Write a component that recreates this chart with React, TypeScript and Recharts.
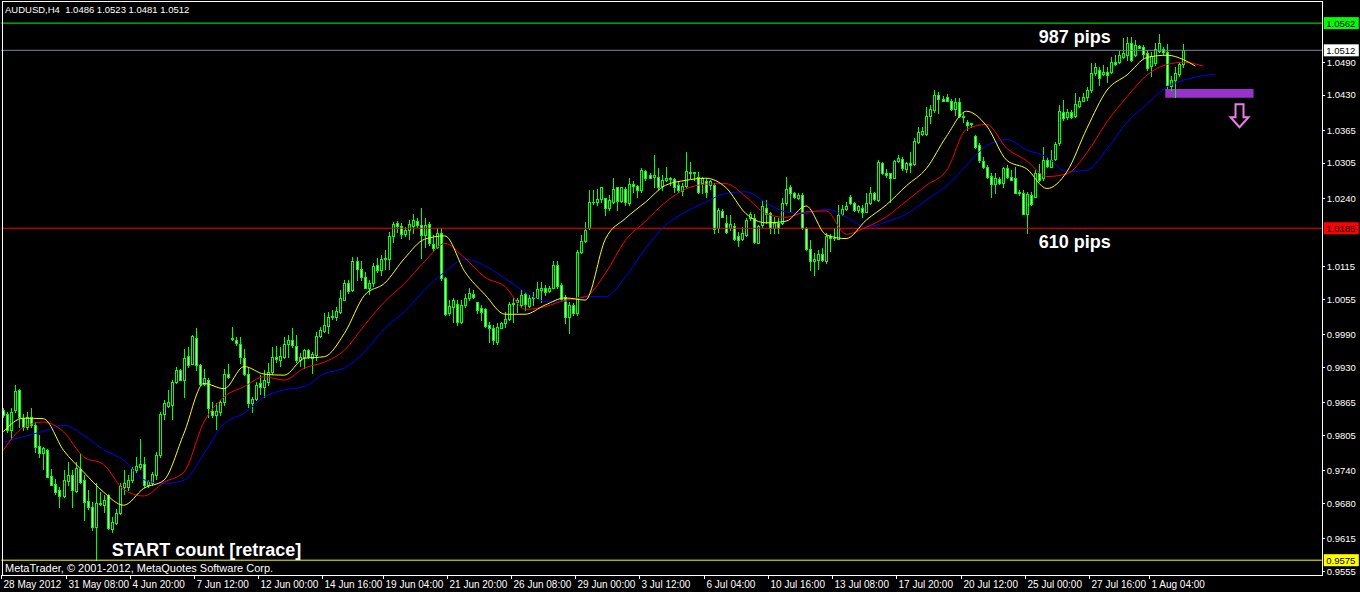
import { ComposedChart, Bar, Line, XAxis, YAxis, ReferenceLine, ReferenceArea, ReferenceDot } from 'recharts';

// AUDUSD H4 candles, prices in pips (1.0512 -> 10512)
const opens = [
  9851, 9843, 9814, 9851, 9887, 9837, 9820, 9838, 9823, 9784,
  9772, 9778, 9729, 9715, 9704, 9693, 9720, 9731, 9702, 9743,
  9722, 9683, 9672, 9636, 9678, 9676, 9694, 9633, 9644, 9661,
  9710, 9710, 9722, 9740, 9746, 9751, 9714, 9716, 9731, 9768,
  9844, 9859, 9860, 9903, 9925, 9907, 9950, 9935, 9984, 9933,
  9898, 9906, 9849, 9841, 9848, 9866, 9918, 9981, 9980, 9973,
  9946, 9918, 9864, 9872, 9900, 9893, 9903, 9921, 9948, 9943,
  9949, 9972, 9980, 9969, 9943, 9949, 9961, 9946, 9952, 9987,
  9997, 10005, 10022, 10022, 10032, 10054, 10084, 10072, 10124, 10111,
  10096, 10076, 10085, 10117, 10108, 10128, 10128, 10170, 10194, 10189,
  10175, 10181, 10190, 10199, 10191, 10173, 10192, 10156, 10151, 10177,
  10093, 10029, 10041, 10046, 10013, 10044, 10056, 10064, 10050, 10038,
  10036, 10007, 10002, 9976, 10002, 10010, 10018, 10045, 10050, 10044,
  10065, 10043, 10056, 10057, 10072, 10075, 10070, 10076, 10117, 10081,
  10059, 10022, 10044, 10029, 10142, 10162, 10185, 10233, 10234, 10239,
  10240, 10222, 10234, 10260, 10235, 10257, 10231, 10266, 10263, 10255,
  10290, 10283, 10280, 10280, 10263, 10274, 10277, 10275, 10264, 10253,
  10263, 10288, 10286, 10280, 10269, 10272, 10264, 10264, 10185, 10216,
  10194, 10185, 10189, 10171, 10165, 10173, 10203, 10203, 10158, 10191,
  10223, 10213, 10185, 10194, 10194, 10231, 10261, 10249, 10241, 10246,
  10185, 10146, 10124, 10127, 10138, 10124, 10170, 10167, 10166, 10212,
  10220, 10243, 10231, 10218, 10223, 10215, 10232, 10249, 10237, 10305,
  10287, 10286, 10278, 10309, 10313, 10293, 10305, 10304, 10344, 10359,
  10358, 10391, 10402, 10430, 10422, 10427, 10419, 10404, 10417, 10391,
  10380, 10376, 10354, 10338, 10309, 10297, 10281, 10267, 10275, 10269,
  10295, 10280, 10278, 10252, 10249, 10212, 10246, 10243, 10287, 10277,
  10310, 10298, 10313, 10341, 10399, 10389, 10399, 10392, 10409, 10419,
  10427, 10439, 10471, 10476, 10468, 10473, 10472, 10491, 10491, 10500,
  10503, 10526, 10503, 10520, 10518, 10507, 10483, 10488, 10510, 10514,
  10508, 10446, 10458, 10469, 10486,
];

const highs = [
  9854, 9848, 9854, 9897, 9890, 9844, 9848, 9854, 9829, 9805,
  9783, 9780, 9743, 9725, 9710, 9740, 9756, 9740, 9756, 9771,
  9731, 9704, 9682, 9716, 9700, 9694, 9697, 9655, 9670, 9716,
  9740, 9731, 9746, 9765, 9798, 9765, 9722, 9737, 9774, 9848,
  9869, 9887, 9906, 9930, 9927, 9964, 9967, 9988, 10001, 9936,
  9927, 9909, 9866, 9863, 9869, 9927, 9936, 10004, 9986, 9986,
  9964, 9928, 9875, 9903, 9915, 9924, 9937, 9967, 9969, 9967,
  9986, 9989, 10001, 9989, 9955, 9964, 9964, 9958, 9995, 10004,
  10029, 10032, 10035, 10041, 10072, 10090, 10090, 10133, 10133, 10124,
  10105, 10090, 10121, 10130, 10136, 10145, 10179, 10197, 10199, 10194,
  10188, 10201, 10212, 10203, 10222, 10203, 10197, 10173, 10185, 10185,
  10096, 10053, 10056, 10053, 10053, 10065, 10075, 10072, 10050, 10044,
  10039, 10013, 10007, 10010, 10013, 10032, 10050, 10056, 10056, 10071,
  10068, 10062, 10068, 10087, 10087, 10081, 10078, 10124, 10125, 10084,
  10062, 10050, 10047, 10145, 10173, 10197, 10255, 10255, 10258, 10261,
  10240, 10246, 10277, 10261, 10261, 10261, 10277, 10271, 10264, 10295,
  10292, 10286, 10320, 10295, 10283, 10298, 10280, 10277, 10271, 10268,
  10326, 10307, 10289, 10288, 10280, 10277, 10274, 10268, 10222, 10220,
  10209, 10209, 10194, 10179, 10188, 10203, 10215, 10212, 10191, 10237,
  10237, 10215, 10206, 10203, 10240, 10280, 10264, 10252, 10249, 10249,
  10188, 10163, 10139, 10145, 10148, 10176, 10174, 10185, 10228, 10228,
  10234, 10246, 10234, 10228, 10228, 10249, 10260, 10252, 10310, 10307,
  10293, 10287, 10310, 10320, 10316, 10307, 10326, 10350, 10372, 10372,
  10407, 10411, 10439, 10436, 10428, 10432, 10422, 10424, 10424, 10396,
  10384, 10379, 10356, 10341, 10316, 10301, 10286, 10286, 10280, 10298,
  10301, 10292, 10298, 10255, 10255, 10252, 10252, 10292, 10304, 10335,
  10316, 10329, 10344, 10411, 10421, 10405, 10402, 10433, 10427, 10433,
  10445, 10488, 10488, 10482, 10485, 10481, 10500, 10503, 10510, 10534,
  10537, 10536, 10531, 10522, 10522, 10513, 10508, 10525, 10542, 10519,
  10524, 10464, 10482, 10491, 10523,
];

const lows = [
  9838, 9811, 9798, 9848, 9820, 9814, 9817, 9820, 9774, 9765,
  9743, 9728, 9713, 9697, 9673, 9691, 9713, 9673, 9700, 9716,
  9648, 9670, 9630, 9575, 9676, 9664, 9633, 9627, 9642, 9659,
  9697, 9704, 9719, 9737, 9743, 9710, 9710, 9713, 9725, 9765,
  9835, 9857, 9835, 9900, 9906, 9875, 9930, 9935, 9924, 9897,
  9897, 9838, 9838, 9817, 9841, 9860, 9909, 9979, 9970, 9937,
  9915, 9857, 9848, 9869, 9881, 9875, 9897, 9918, 9940, 9931,
  9946, 9949, 9967, 9940, 9931, 9928, 9946, 9919, 9943, 9985,
  9995, 9992, 10019, 10017, 10029, 10053, 10066, 10070, 10090, 10090,
  10075, 10065, 10078, 10105, 10099, 10111, 10111, 10160, 10179, 10168,
  10171, 10166, 10176, 10188, 10130, 10151, 10154, 10145, 10148, 10090,
  10026, 10026, 10013, 10007, 10010, 10041, 10053, 10056, 10029, 10016,
  10004, 9976, 9973, 9973, 10001, 10004, 10016, 10013, 10032, 10041,
  10035, 10041, 10044, 10056, 10050, 10062, 10068, 10075, 10076, 10053,
  10010, 9992, 10025, 10025, 10139, 10160, 10184, 10229, 10228, 10234,
  10209, 10219, 10231, 10219, 10234, 10228, 10228, 10252, 10243, 10252,
  10274, 10277, 10261, 10258, 10255, 10271, 10264, 10252, 10252, 10246,
  10261, 10277, 10274, 10249, 10249, 10243, 10258, 10177, 10179, 10205,
  10177, 10182, 10163, 10153, 10163, 10171, 10200, 10158, 10157, 10188,
  10194, 10177, 10177, 10176, 10193, 10228, 10215, 10240, 10238, 10183,
  10145, 10108, 10099, 10111, 10124, 10122, 10144, 10163, 10165, 10209,
  10218, 10229, 10217, 10215, 10206, 10214, 10229, 10237, 10236, 10285,
  10280, 10234, 10277, 10307, 10292, 10289, 10289, 10301, 10341, 10356,
  10356, 10378, 10399, 10396, 10418, 10418, 10402, 10393, 10390, 10381,
  10366, 10372, 10332, 10307, 10295, 10277, 10243, 10249, 10267, 10261,
  10277, 10274, 10249, 10246, 10212, 10176, 10228, 10242, 10271, 10274,
  10298, 10297, 10310, 10338, 10384, 10385, 10387, 10390, 10408, 10418,
  10421, 10436, 10467, 10448, 10467, 10454, 10471, 10485, 10488, 10497,
  10494, 10493, 10502, 10516, 10497, 10476, 10464, 10485, 10508, 10503,
  10442, 10439, 10427, 10464, 10481,
];

const closes = [
  9841, 9814, 9848, 9886, 9838, 9820, 9838, 9823, 9783, 9772,
  9781, 9728, 9714, 9700, 9693, 9723, 9732, 9704, 9745, 9719,
  9682, 9672, 9636, 9680, 9681, 9686, 9635, 9645, 9661, 9711,
  9716, 9723, 9743, 9748, 9751, 9713, 9720, 9734, 9768, 9844,
  9863, 9865, 9903, 9925, 9907, 9947, 9933, 9987, 9933, 9898,
  9910, 9854, 9841, 9849, 9866, 9918, 9911, 9984, 9974, 9949,
  9918, 9864, 9872, 9897, 9893, 9906, 9921, 9948, 9944, 9950,
  9972, 9980, 9970, 9943, 9949, 9961, 9949, 9954, 9987, 9998,
  10007, 10022, 10024, 10033, 10056, 10084, 10070, 10124, 10110, 10096,
  10076, 10084, 10115, 10108, 10128, 10130, 10170, 10193, 10189, 10175,
  10181, 10193, 10201, 10191, 10173, 10191, 10157, 10148, 10176, 10093,
  10027, 10042, 10053, 10013, 10044, 10056, 10066, 10059, 10035, 10032,
  10006, 10001, 9980, 10004, 10010, 10019, 10045, 10048, 10053, 10063,
  10045, 10057, 10059, 10073, 10076, 10068, 10076, 10117, 10078, 10055,
  10022, 10044, 10030, 10142, 10162, 10182, 10233, 10234, 10239, 10260,
  10222, 10237, 10257, 10235, 10260, 10234, 10266, 10262, 10255, 10292,
  10277, 10278, 10283, 10261, 10274, 10277, 10275, 10261, 10255, 10263,
  10290, 10286, 10289, 10252, 10277, 10252, 10271, 10184, 10218, 10206,
  10179, 10193, 10166, 10163, 10176, 10200, 10212, 10160, 10189, 10225,
  10212, 10185, 10194, 10185, 10231, 10258, 10249, 10242, 10246, 10185,
  10146, 10124, 10128, 10138, 10127, 10170, 10167, 10168, 10209, 10220,
  10225, 10231, 10218, 10225, 10215, 10232, 10249, 10238, 10307, 10287,
  10283, 10277, 10309, 10315, 10295, 10305, 10301, 10345, 10362, 10364,
  10391, 10405, 10430, 10422, 10419, 10419, 10404, 10417, 10391, 10389,
  10375, 10378, 10335, 10310, 10297, 10280, 10267, 10277, 10269, 10295,
  10280, 10274, 10250, 10249, 10212, 10248, 10230, 10287, 10274, 10310,
  10299, 10310, 10340, 10400, 10387, 10399, 10390, 10414, 10419, 10427,
  10440, 10470, 10482, 10462, 10473, 10467, 10491, 10487, 10503, 10507,
  10525, 10495, 10522, 10517, 10506, 10479, 10502, 10514, 10525, 10508,
  10448, 10458, 10471, 10487, 10512,
];

// Alligator lines at these bar positions (pips)
const maIndex = [
  0, 5, 10, 15, 20, 25, 30, 35, 40, 45, 50, 55, 60, 65, 70, 75, 80, 85, 90, 95,
  100, 105, 110, 115, 120, 125, 130, 135, 140, 145, 150, 155, 160, 165, 170, 175, 180, 185, 190, 195,
  200, 205, 210, 215, 220, 225, 230, 235, 240, 245, 250, 255, 260, 265, 270, 275, 280, 285, 290,
  294, 297, 299, 302,
];
const lips = [
  9811, 9836, 9835, 9777, 9737, 9700, 9676, 9707, 9722, 9808, 9900, 9890, 9931, 9917, 9915, 9946, 9949, 9992, 10062, 10084,
  10130, 10165, 10171, 10105, 10063, 10027, 10027, 10044, 10057, 10053, 10165, 10203, 10233, 10264, 10273, 10277, 10260, 10212, 10195, 10198,
  10226, 10173, 10166, 10200, 10228, 10263, 10295, 10354, 10400, 10373, 10310, 10294, 10258, 10289, 10369, 10439, 10467, 10499, 10503,
  10495, 10483, null, null,
];
const teeth = [
  9777, 9819, 9829, 9811, 9765, 9751, 9705, 9693, 9718, 9737, 9829, 9875, 9894, 9912, 9906, 9928, 9939, 9961, 10007, 10050,
  10084, 10124, 10157, 10130, 10095, 10078, 10036, 10041, 10053, 10059, 10102, 10163, 10198, 10233, 10257, 10266, 10267, 10243, 10212, 10205,
  10215, 10217, 10174, 10187, 10206, 10235, 10264, 10291, 10367, 10376, 10332, 10309, 10280, 10285, 10324, 10381, 10427, 10467, 10486,
  10490, null, 10483, null,
];
const jaw = [
  9792, 9802, 9812, 9823, 9805, 9778, 9759, 9723, 9716, 9722, 9771, 9826, 9845, 9875, 9888, 9894, 9918, 9928, 9958, 10001,
  10032, 10072, 10105, 10128, 10116, 10093, 10068, 10051, 10051, 10060, 10059, 10096, 10148, 10191, 10215, 10233, 10249, 10252, 10232, 10215,
  10212, 10220, 10206, 10187, 10197, 10211, 10237, 10263, 10301, 10337, 10348, 10329, 10316, 10289, 10292, 10331, 10380, 10414, 10445,
  10457, null, null, 10468,
];

const dateLabels = [
  '28 May 2012', '31 May 08:00', '4 Jun 20:00', '7 Jun 12:00', '12 Jun 00:00', '14 Jun 16:00', '19 Jun 04:00',
  '21 Jun 20:00', '26 Jun 08:00', '29 Jun 00:00', '3 Jul 12:00', '6 Jul 04:00', '10 Jul 16:00', '13 Jul 08:00',
  '17 Jul 20:00', '20 Jul 12:00', '25 Jul 00:00', '27 Jul 16:00', '1 Aug 04:00',
];
const dateIdx = [0, 16, 32, 48, 64, 80, 95, 111, 127, 143, 159, 175, 191, 207, 223, 239, 255, 271, 286];

const priceTicks = [1.049, 1.043, 1.0365, 1.0305, 1.024, 1.0115, 1.0055, 0.999, 0.993, 0.9865, 0.9805, 0.974, 0.968, 0.9615, 0.9555];

const levels = [
  { price: 1.0562, color: '#00ff00', text: '1.0562', tag: '#00ff00' },
  { price: 1.0512, color: '#778899', text: '1.0512', tag: '#ffffff' },
  { price: 1.0185, color: '#ff0000', text: '1.0185', tag: '#ff0000' },
  { price: 0.9575, color: '#ffff00', text: '0.9575', tag: '#ffff00' },
];

const notes = [
  { text: '987 pips', at: 258, price: 1.05255 },
  { text: '610 pips', at: 258, price: 1.01487 },
  { text: 'START count [retrace]', at: 27, price: 0.95826 },
];

const SLOTS = 329;
const FONT = '"Liberation Sans", Arial, sans-serif';

const rows = Array.from({ length: SLOTS }, (_, i) => {
  const has = i < closes.length;
  const k = maIndex.indexOf(i);
  const pick = (arr: (number | null)[]) => (k >= 0 && arr[k] != null ? (arr[k] as number) / 10000 : null);
  return {
    i,
    range: has ? [lows[i] / 10000, highs[i] / 10000] : null,
    o: has ? opens[i] / 10000 : null,
    h: has ? highs[i] / 10000 : null,
    l: has ? lows[i] / 10000 : null,
    c: has ? closes[i] / 10000 : null,
    lips: pick(lips),
    teeth: pick(teeth),
    jaw: pick(jaw),
  };
});

const Candle = (props: any) => {
  const { x, y, width, height, payload } = props;
  if (!payload || payload.o == null || x == null) return null;
  const { o, h, l, c } = payload;
  const top = Math.min(y, y + height);
  const bot = Math.max(y, y + height);
  const span = h - l;
  const py = (p: number) => (span > 0 ? top + ((h - p) / span) * (bot - top) : top);
  const cx = Math.floor(x + width / 2) + 0.5;
  const yo = py(o);
  const yc = py(c);
  const bTop = Math.round(Math.min(yo, yc)) + 0.5;
  const bBot = Math.round(Math.max(yo, yc)) + 0.5;
  return (
    <g shapeRendering="crispEdges">
      <line x1={cx} x2={cx} y1={Math.round(top)} y2={Math.round(bot) + 1} stroke="#00ff00" />
      {bBot - bTop < 1 ? (
        <line x1={cx - 1.5} x2={cx + 1.5} y1={bTop} y2={bTop} stroke="#00ff00" />
      ) : (
        <rect x={cx - 1} y={bTop} width={2} height={bBot - bTop} fill={c < o ? '#b4ffb4' : '#000000'} stroke="#00ff00" />
      )}
    </g>
  );
};

const DateTick = (props: any) => {
  const { x, y, payload } = props;
  const k = dateIdx.indexOf(payload.value);
  if (k < 0) return null;
  const tx = Math.round(x) + 0.5;
  return (
    <g>
      <line x1={tx - 2} x2={tx - 2} y1={y} y2={y + 4} stroke="#ffffff" shapeRendering="crispEdges" />
      <text x={tx} y={y + 13} fill="#ffffff" fontSize={10} fontFamily={FONT}>
        {dateLabels[k]}
      </text>
    </g>
  );
};

const PriceTick = (props: any) => {
  const { x, y, payload } = props;
  const ty = Math.round(y) + 0.5;
  return (
    <g>
      <line x1={x} x2={x + 3} y1={ty} y2={ty} stroke="#ffffff" shapeRendering="crispEdges" />
      <text x={x + 5} y={y} dy={3.5} fill="#ffffff" fontSize={9.5} fontFamily={FONT}>
        {Number(payload.value).toFixed(4)}
      </text>
    </g>
  );
};

const tag = (text: string, bg: string) => (p: any) => {
  const vb = p.viewBox || {};
  const left = vb.x + vb.width + 2;
  return (
    <g>
      <rect x={left} y={vb.y - 6} width={35} height={12} fill={bg} />
      <text x={left + 2.5} y={vb.y} dy={3.5} fontSize={9.5} fill="#000000" fontFamily={FONT}>
        {text}
      </text>
    </g>
  );
};

const noteShape = (text: string) => (p: any) => (
  <text x={p.cx} y={p.cy} fill="#ffffff" fontSize={18} fontWeight="bold" fontFamily={FONT}>
    {text}
  </text>
);

const arrowShape = (p: any) => {
  const { cx, cy } = p;
  const d = `M${cx - 4},${cy} L${cx + 4},${cy} L${cx + 4},${cy + 13} L${cx + 9},${cy + 13} L${cx},${cy + 23} L${cx - 9},${cy + 13} L${cx - 4},${cy + 13} Z`;
  return <path d={d} fill="none" stroke="#e77fe7" strokeWidth={2} />;
};

export default function App() {
  return (
    <div style={{ position: 'absolute', left: 0, top: 0, width: 1360, height: 592, background: '#000', overflow: 'hidden', fontFamily: FONT }}>
      <ComposedChart width={1360} height={592} data={rows} margin={{ top: 2, right: 0, bottom: 0, left: 1.3 }} barSize={3}>
        <XAxis
          dataKey="i"
          type="category"
          height={17}
          interval={0}
          ticks={dateIdx}
          tick={<DateTick />}
          tickSize={0}
          tickMargin={0}
          tickLine={false}
          axisLine={false}
        />
        <YAxis
          orientation="right"
          type="number"
          domain={[0.95478, 1.06008]}
          allowDataOverflow
          width={38.2}
          ticks={priceTicks}
          interval={0}
          tick={<PriceTick />}
          tickSize={0}
          tickMargin={0}
          tickLine={false}
          axisLine={false}
        />
        {levels.map((lv) => (
          <ReferenceLine key={lv.text} y={lv.price} stroke={lv.color} strokeWidth={1} label={tag(lv.text, lv.tag)} />
        ))}
        <Bar dataKey="range" shape={(p: any) => <Candle {...p} />} isAnimationActive={false} />
        <Line dataKey="jaw" stroke="#0000ff" strokeWidth={1} dot={false} connectNulls type="monotone" isAnimationActive={false} />
        <Line dataKey="teeth" stroke="#ff0000" strokeWidth={1} dot={false} connectNulls type="monotone" isAnimationActive={false} />
        <Line dataKey="lips" stroke="#ffff00" strokeWidth={1} dot={false} connectNulls type="monotone" isAnimationActive={false} />
        <ReferenceArea x1={290} x2={311} y1={1.0425} y2={1.0441} fill="#9932cc" fillOpacity={1} stroke="none" />
        <ReferenceDot x={308} y={1.0413} r={0} shape={arrowShape} />
        {notes.map((n) => (
          <ReferenceDot key={n.text} x={n.at} y={n.price} r={0} shape={noteShape(n.text)} />
        ))}
      </ComposedChart>
      <div style={{ position: 'absolute', left: 2, top: 1, width: 1319, height: 573, border: '1px solid #fff', pointerEvents: 'none' }} />
      <div style={{ position: 'absolute', left: 5, top: 4, color: '#fff', fontSize: 9.5, lineHeight: '12px', whiteSpace: 'pre' }}>
        AUDUSD,H4  1.0486 1.0523 1.0481 1.0512
      </div>
      <div style={{ position: 'absolute', left: 5, top: 562, color: '#fff', fontSize: 11, lineHeight: '12px', whiteSpace: 'pre' }}>
        MetaTrader, © 2001-2012, MetaQuotes Software Corp.
      </div>
    </div>
  );
}
